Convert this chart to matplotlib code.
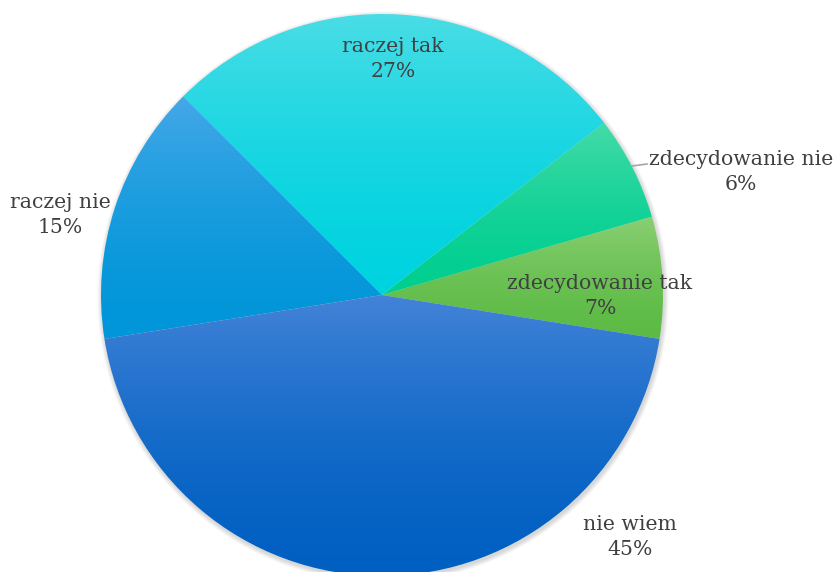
import numpy as np
import matplotlib.pyplot as plt
from matplotlib.colors import LinearSegmentedColormap
from matplotlib.patches import Circle

labels = ["zdecydowanie tak", "zdecydowanie nie", "raczej tak", "raczej nie", "nie wiem"]
values = [7, 6, 27, 15, 45]
# (top colour, bottom colour) of each slice's vertical gradient
colors = [("#8acf74", "#5dbb45"),
          ("#45dba8", "#00cf90"),
          ("#4adde6", "#00d3e0"),
          ("#45a8e8", "#0096d9"),
          ("#4383d8", "#0060c2")]
# label anchor (x, y in pixels from top-left) for each slice
label_pos = [(600, 296), (741, 172), (393, 59), (60, 215), (630, 537)]

W, H = 839, 572
cx, cy, r = 382, 572 - 295, 281

fig = plt.figure(figsize=(W / 100, H / 100), dpi=100)
ax = fig.add_axes([0, 0, 1, 1])

# soft shadow around the pie
for i in range(8):
    ax.add_patch(Circle((cx + 1, cy - 2), r + 0.5 + i * 0.6, color="black",
                        alpha=0.018, lw=0, zorder=0))

wedges, _ = ax.pie(values, center=(cx, cy), radius=r, startangle=-9,
                   counterclock=True, frame=True,
                   wedgeprops=dict(linewidth=0, facecolor="none"))
ax.set_xlim(0, W)
ax.set_ylim(0, H)
ax.set_aspect("equal")
ax.axis("off")

grad = np.linspace(0, 1, 256).reshape(-1, 1) ** 1.6
for w, (top, bot) in zip(wedges, colors):
    ext = w.get_path().get_extents(w.get_patch_transform())
    cmap = LinearSegmentedColormap.from_list("g", [bot, top])
    im = ax.imshow(grad, cmap=cmap, origin="lower", aspect="auto",
                   extent=[ext.x0, ext.x1, ext.y0, ext.y1], zorder=2)
    im.set_clip_path(w)

for lab, v, (x, y) in zip(labels, values, label_pos):
    ax.text(x, H - y, f"{lab}\n{v}%", ha="center", va="center",
            fontsize=14.7, family="DejaVu Serif", color="#404040",
            linespacing=1.45, zorder=5)

# leader line for the small slice
ax.plot([632, 647], [H - 166, H - 164], color="#a6a6a6", lw=1.2, zorder=4)

fig.savefig("out.png", dpi=100)
